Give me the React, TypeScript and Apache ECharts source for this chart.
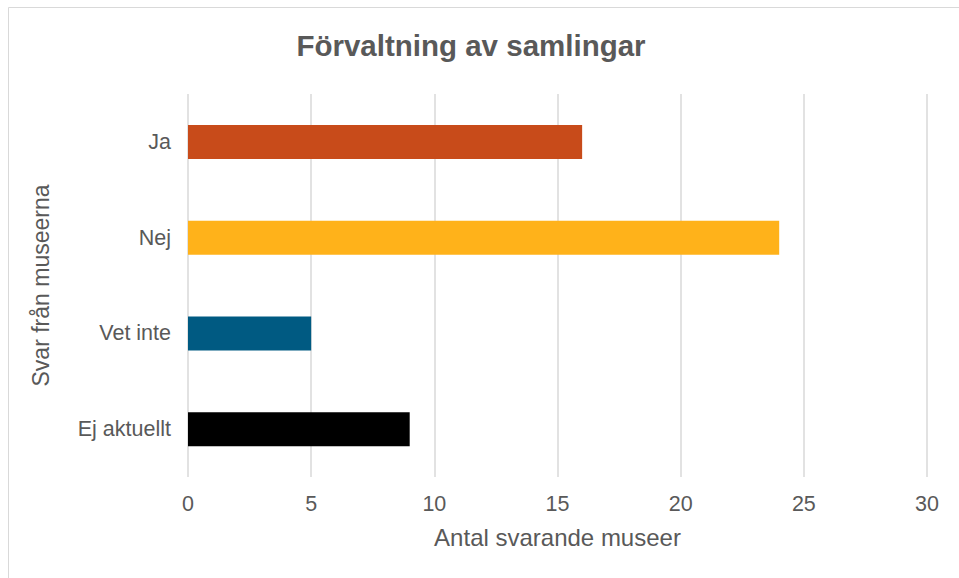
import React, { useEffect, useRef } from "react";
import * as echarts from "echarts";

const categories = ["Ja", "Nej", "Vet inte", "Ej aktuellt"];
const values = [16, 24, 5, 9];
const barColors = ["#C84B1A", "#FFB21A", "#005A82", "#000000"];
const xTicks = { min: 0, max: 30, interval: 5 };

const FONT = "'Liberation Sans', Arial, sans-serif";
const TEXT = "#595959";

export default function App() {
  const ref = useRef<HTMLDivElement>(null);
  useEffect(() => {
    if (!ref.current) return;
    const chart = echarts.init(ref.current, undefined, { renderer: "svg" });
    chart.setOption({
      animation: false,
      backgroundColor: "#ffffff",
      title: {
        text: "Förvaltning av samlingar",
        left: 466,
        top: 40,
        textAlign: "center",
        textVerticalAlign: "middle",
        textStyle: { fontFamily: FONT, fontSize: 29.5, fontWeight: "bold", color: TEXT },
      },
      graphic: [
        {
          type: "rect",
          shape: { x: 8.5, y: 7.5, width: 1000, height: 1000 },
          style: { fill: "none", stroke: "#D9D9D9", lineWidth: 1 },
          silent: true,
        },
      ],
      grid: { left: 188, right: 32, top: 94, bottom: 101, containLabel: false },
      xAxis: {
        type: "value",
        min: xTicks.min,
        max: xTicks.max,
        interval: xTicks.interval,
        name: "Antal svarande museer",
        nameLocation: "middle",
        nameGap: 48,
        nameTextStyle: { fontFamily: FONT, fontSize: 24, color: TEXT },
        axisLine: { show: false },
        axisTick: { show: false },
        axisLabel: { fontFamily: FONT, fontSize: 21.5, color: TEXT, margin: 16 },
        splitLine: { show: true, lineStyle: { color: "#D9D9D9", width: 1.5 } },
      },
      yAxis: {
        type: "category",
        data: categories,
        inverse: true,
        name: "Svar från museerna",
        nameLocation: "middle",
        nameGap: 136,
        nameRotate: 90,
        nameTextStyle: { fontFamily: FONT, fontSize: 23, color: TEXT },
        axisLine: { show: false },
        axisTick: { show: false },
        axisLabel: { fontFamily: FONT, fontSize: 21.5, color: TEXT, margin: 17 },
        splitLine: { show: false },
      },
      series: [
        {
          type: "bar",
          barWidth: 34,
          data: values.map((v, i) => ({ value: v, itemStyle: { color: barColors[i] } })),
        },
      ],
    });
    return () => chart.dispose();
  }, []);
  return (
    <div
      ref={ref}
      style={{ position: "absolute", left: 0, top: 0, width: 959, height: 578 }}
    />
  );
}
